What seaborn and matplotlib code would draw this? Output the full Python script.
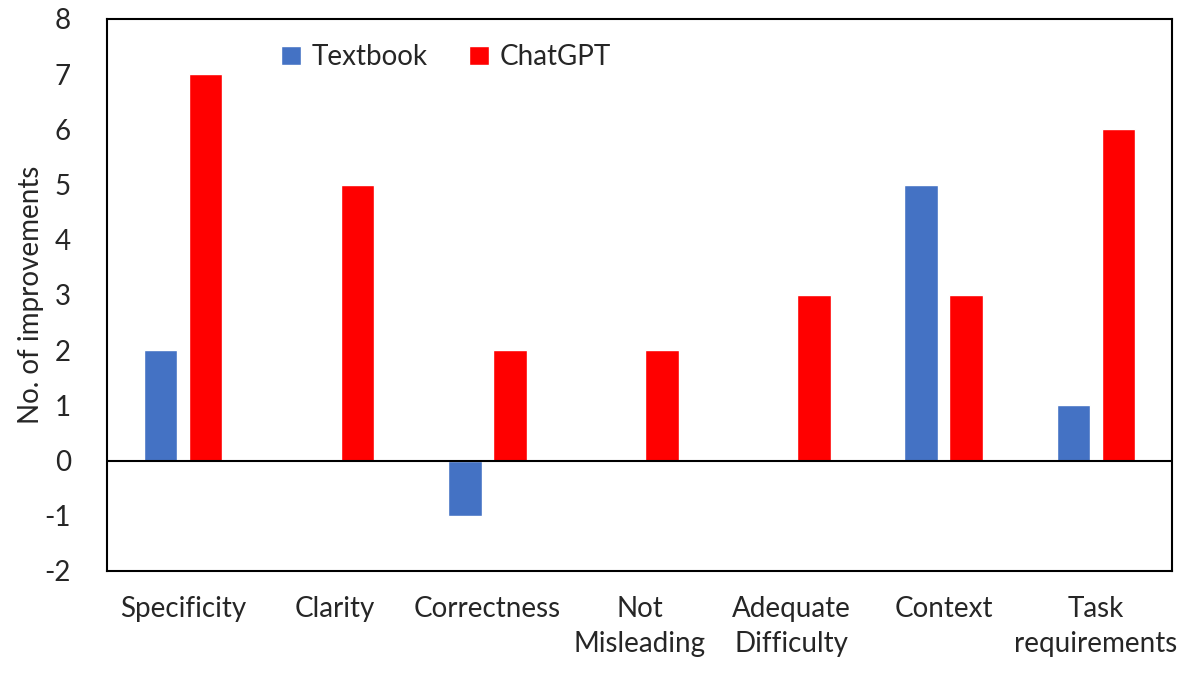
import matplotlib
matplotlib.use("Agg")
import matplotlib.pyplot as plt
import pandas as pd
import seaborn as sns

categories = ["Specificity", "Clarity", "Correctness", "Not\nMisleading",
              "Adequate\nDifficulty", "Context", "Task\nrequirements"]
textbook = [2, 0, -1, 0, 0, 5, 1]
chatgpt = [7, 5, 2, 2, 3, 3, 6]
series_names = ["Textbook", "ChatGPT"]
y_ticks = list(range(-2, 9))

df = pd.DataFrame({
    "category": categories * 2,
    "source": [series_names[0]] * len(categories) + [series_names[1]] * len(categories),
    "value": textbook + chatgpt,
})

sns.set_theme(style="white")
plt.rcParams["font.family"] = ["Lato", "DejaVu Sans"]

fig = plt.figure(figsize=(11.85, 6.73), dpi=100)
ax = fig.add_axes([0.0903, 0.1516, 0.8987, 0.8202])

sns.barplot(data=df, x="category", y="value", hue="source", order=categories,
            hue_order=series_names, palette=["#4472C4", "#FF0000"],
            width=0.59, gap=0.25, ax=ax, saturation=1)

ax.set_ylim(-2, 8)
ax.set_xlim(-0.5, len(categories) - 0.5)
ax.set_yticks(y_ticks)
ax.set_yticklabels([str(t) for t in y_ticks], fontsize=20)
ax.tick_params(axis="x", length=0, pad=18)
for lbl in ax.get_xticklabels():
    lbl.set_fontsize(20)
    lbl.set_linespacing(1.45)
    lbl.set_verticalalignment("top")
ax.tick_params(axis="y", length=0, pad=26)
ax.axhline(0, color="black", linewidth=1.5)
ax.set_xlabel("")
ax.set_ylabel("No. of improvements", fontsize=20, labelpad=0)
for spine in ax.spines.values():
    spine.set_color("black")
    spine.set_linewidth(1.5)

ax.legend(loc="upper left", bbox_to_anchor=(0.14, 1.0), ncol=2, frameon=False,
          fontsize=20, handlelength=0.7, handleheight=0.7, columnspacing=1.5,
          handletextpad=0.4)

fig.savefig("out.png", dpi=100)
